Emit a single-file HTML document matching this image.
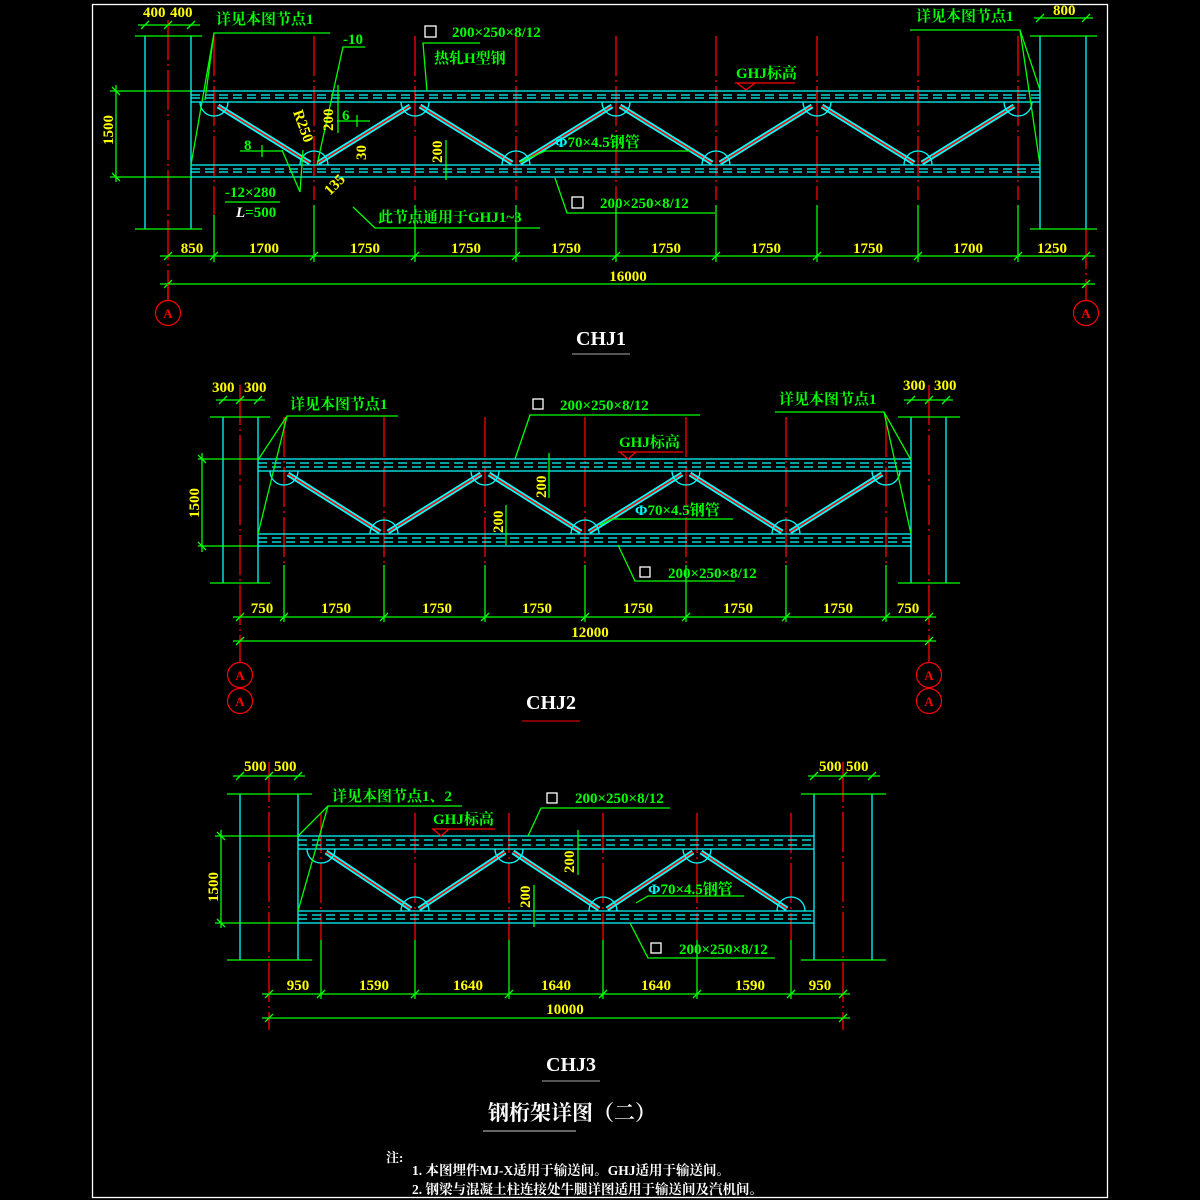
<!DOCTYPE html>
<html><head><meta charset="utf-8"><style>
html,body{margin:0;padding:0;background:#000;}
svg{display:block}
text{font-family:"Liberation Serif","Noto Serif CJK SC","Noto Sans CJK SC",serif;font-weight:bold}
.c{stroke:#00ffff;stroke-width:1.3;fill:none}
.cd{stroke:#00ffff;stroke-width:1.3;fill:none;stroke-dasharray:9 5}
.g{stroke:#00ff00;stroke-width:1.3;fill:none}
.r{stroke:#ff0000;stroke-width:1.3;fill:none;stroke-dasharray:40 4 2 4}
.rs{stroke:#ff0000;stroke-width:1.3;fill:none}
.dc{stroke:#00ffff;stroke-width:5;fill:none}
.dr{stroke:#ff0000;stroke-width:1.5;fill:none}
.y{fill:#ffff00;font-size:15px}
.gt{fill:#00ff00;font-size:15px}
.w{fill:#fff}
</style></head><body>
<svg width="1200" height="1200" viewBox="0 0 1200 1200" xmlns="http://www.w3.org/2000/svg">
<rect x="92.5" y="4.5" width="1015" height="1193" fill="none" stroke="#fff" stroke-width="1.3"/>

<!-- ================= CHJ1 ================= -->
<g>
<line class="c" x1="145" y1="36" x2="145" y2="229"/>
<line class="c" x1="191" y1="36" x2="191" y2="229"/>
<line class="r" x1="168" y1="20" x2="168" y2="300"/>
<line class="g" x1="135" y1="36" x2="202" y2="36"/>
<line class="g" x1="135" y1="229" x2="202" y2="229"/>
<line class="c" x1="1040" y1="36" x2="1040" y2="229"/>
<line class="c" x1="1086" y1="36" x2="1086" y2="229"/>
<line class="r" x1="1086" y1="229" x2="1086" y2="300"/>
<line class="g" x1="1030" y1="36" x2="1097" y2="36"/>
<line class="g" x1="1030" y1="229" x2="1097" y2="229"/>
<line class="g" x1="138" y1="25" x2="200" y2="25"/>
<line class="g" x1="1034" y1="18" x2="1093" y2="18"/>
<g class="g"><path d="M141 29 L149 21 M164 29 L172 21 M187 29 L195 21 M1036 22 L1044 14 M1082 22 L1090 14"/></g>
<text class="y" x="143" y="17">400</text><text class="y" x="170" y="17">400</text>
<text class="y" x="1053" y="15">800</text>
<line class="g" x1="116" y1="85" x2="116" y2="182"/>
<line class="g" x1="110" y1="91" x2="191" y2="91"/>
<line class="g" x1="110" y1="177" x2="191" y2="177"/>
<path class="g" d="M112 87 L120 95 M112 173 L120 181"/>
<text class="y" transform="translate(113,145) rotate(-90)">1500</text>
<line class="r" x1="214" y1="36" x2="214" y2="215"/>
<line class="r" x1="314" y1="36" x2="314" y2="200"/>
<line class="r" x1="616" y1="36" x2="616" y2="200"/>
<line class="r" x1="716" y1="36" x2="716" y2="200"/>
<line class="r" x1="415" y1="36" x2="415" y2="200"/>
<line class="r" x1="516" y1="36" x2="516" y2="200"/>
<line class="r" x1="817" y1="36" x2="817" y2="200"/>
<line class="r" x1="918" y1="36" x2="918" y2="200"/>
<line class="r" x1="1018" y1="36" x2="1018" y2="200"/>
<line class="c" x1="191" y1="91" x2="1040" y2="91"/>
<line class="cd" x1="191" y1="95" x2="1040" y2="95"/>
<line class="cd" x1="191" y1="98" x2="1040" y2="98"/>
<line class="c" x1="191" y1="102" x2="1040" y2="102"/>
<line class="c" x1="191" y1="165" x2="1040" y2="165"/>
<line class="cd" x1="191" y1="169" x2="1040" y2="169"/>
<line class="cd" x1="191" y1="172" x2="1040" y2="172"/>
<line class="c" x1="191" y1="177" x2="1040" y2="177"/>
<path class="dc" d="M218 106 L310 163 M410 106 L318 163 M420 106 L512 163 M612 106 L520 163 M620 106 L712 163 M812 106 L720 163 M822 106 L914 163 M1014 106 L922 163"/>
<path class="dr" d="M218 106 L310 163 M410 106 L318 163 M420 106 L512 163 M612 106 L520 163 M620 106 L712 163 M812 106 L720 163 M822 106 L914 163 M1014 106 L922 163"/>
<g class="c">
<path d="M200 102 A14 14 0 0 0 228 102"/><path d="M401 102 A14 14 0 0 0 429 102"/><path d="M602 102 A14 14 0 0 0 630 102"/><path d="M803 102 A14 14 0 0 0 831 102"/><path d="M1004 102 A14 14 0 0 0 1032 102"/>
<path d="M300 165 A14 14 0 0 1 328 165"/><path d="M502 165 A14 14 0 0 1 530 165"/><path d="M702 165 A14 14 0 0 1 730 165"/><path d="M904 165 A14 14 0 0 1 932 165"/>
</g>
<path class="g" d="M330 33 L214 33 L191 165 M214 33 L205 100"/>
<path class="g" d="M910 30 L1020 30 L1040 90 M1020 30 L1040 165"/>
<text class="gt" x="216" y="24">详见本图节点1</text>
<text class="gt" x="916" y="21">详见本图节点1</text>
<path class="g" d="M365 47 L343 47 L317 165"/><text class="gt" x="343" y="44">-10</text>
<path class="g" d="M480 43 L423 43 L427 91"/>
<rect x="425" y="26" width="11" height="11" fill="none" stroke="#fff" stroke-width="1.3"/>
<text class="gt" x="452" y="37">200×250×8/12</text>
<text class="gt" x="434" y="63">热轧H型钢</text>
<text class="gt" x="736" y="78">GHJ标高</text>
<path d="M735 83 L795 83 M737 83 L746 90 L755 83" stroke="#ff0000" stroke-width="1.2" fill="none"/>
<text class="gt" x="555" y="147" fill="#00ff00"><tspan fill="#00ffff">Φ</tspan>70×4.5钢管</text>
<path class="g" d="M690 151 L545 151 L520 162"/>
<path class="g" d="M555 178 L567 213 L715 213"/>
<rect x="572" y="197" width="11" height="11" fill="none" stroke="#fff" stroke-width="1.3"/>
<text class="gt" x="600" y="208">200×250×8/12</text>
<text class="y" transform="translate(333,131) rotate(-90)">200</text>
<line class="g" x1="338" y1="85" x2="338" y2="133"/>
<text class="y" transform="translate(442,163) rotate(-90)">200</text>
<line class="g" x1="446" y1="140" x2="446" y2="180"/>
<text class="y" transform="translate(293,112) rotate(70)">R250</text>
<text class="gt" x="342" y="120">6</text><path class="g" d="M337 121 L370 121 M357 115 L357 127"/>
<text class="gt" x="244" y="150">8</text><path class="g" d="M240 151 L282 151 M262 145 L262 157"/>
<text class="y" transform="translate(366,160) rotate(-90)">30</text>
<text class="y" transform="translate(330,196) rotate(-45)">135</text>
<path class="g" d="M280 202 L225 202 M282 150 L300 192 L303 150"/>
<text class="gt" x="225" y="197">-12×280</text>
<text class="gt" x="236" y="217"><tspan fill="#fff" font-style="italic">L</tspan>=500</text>
<path class="g" d="M353 207 L375 228 L540 228"/>
<text class="gt" x="378" y="222">此节点通用于GHJ1~3</text>
<line class="g" x1="160" y1="256" x2="1095" y2="256"/>
<line class="g" x1="160" y1="284" x2="1095" y2="284"/>
<g class="g"><line x1="214" y1="215" x2="214" y2="262"/><line x1="314" y1="205" x2="314" y2="262"/><line x1="415" y1="205" x2="415" y2="262"/><line x1="516" y1="205" x2="516" y2="262"/><line x1="616" y1="205" x2="616" y2="262"/><line x1="716" y1="205" x2="716" y2="262"/><line x1="817" y1="205" x2="817" y2="262"/><line x1="918" y1="205" x2="918" y2="262"/><line x1="1018" y1="205" x2="1018" y2="262"/>
<path d="M164 260 L172 252 M210 260 L218 252 M310 260 L318 252 M411 260 L419 252 M512 260 L520 252 M612 260 L620 252 M712 260 L720 252 M813 260 L821 252 M914 260 L922 252 M1014 260 L1022 252 M1082 260 L1090 252 M164 288 L172 280 M1082 288 L1090 280"/></g>
<g class="y" text-anchor="middle"><text x="192" y="253">850</text><text x="264" y="253">1700</text><text x="365" y="253">1750</text><text x="466" y="253">1750</text><text x="566" y="253">1750</text><text x="666" y="253">1750</text><text x="766" y="253">1750</text><text x="868" y="253">1750</text><text x="968" y="253">1700</text><text x="1052" y="253">1250</text><text x="628" y="281">16000</text></g>
<line class="rs" x1="168" y1="284" x2="168" y2="300"/>
<circle cx="168" cy="313" r="12.5" fill="none" stroke="#ff0000" stroke-width="1.2"/><text x="168" y="318" fill="#ff0000" font-size="13" text-anchor="middle">A</text>
<circle cx="1086" cy="313" r="12.5" fill="none" stroke="#ff0000" stroke-width="1.2"/><text x="1086" y="318" fill="#ff0000" font-size="13" text-anchor="middle">A</text>
<text class="w" x="601" y="345" font-size="20" text-anchor="middle" font-weight="normal">CHJ1</text>
<line x1="572" y1="354" x2="630" y2="354" stroke="#aaa" stroke-width="1"/>
</g>

<!-- ================= CHJ2 ================= -->
<g>
<line class="c" x1="223" y1="417" x2="223" y2="583"/>
<line class="c" x1="258" y1="417" x2="258" y2="583"/>
<line class="r" x1="240" y1="385" x2="240" y2="662"/>
<line class="g" x1="210" y1="417" x2="270" y2="417"/>
<line class="g" x1="210" y1="583" x2="270" y2="583"/>
<line class="c" x1="911" y1="417" x2="911" y2="583"/>
<line class="c" x1="946" y1="417" x2="946" y2="583"/>
<line class="r" x1="929" y1="385" x2="929" y2="662"/>
<line class="g" x1="898" y1="417" x2="960" y2="417"/>
<line class="g" x1="898" y1="583" x2="960" y2="583"/>
<line class="g" x1="216" y1="400" x2="265" y2="400"/>
<line class="g" x1="904" y1="400" x2="953" y2="400"/>
<path class="g" d="M219 404 L227 396 M236 404 L244 396 M254 404 L262 396 M907 404 L915 396 M925 404 L933 396 M942 404 L950 396"/>
<text class="y" x="212" y="392">300</text><text class="y" x="244" y="392">300</text>
<text class="y" x="903" y="390">300</text><text class="y" x="934" y="390">300</text>
<line class="g" x1="202" y1="453" x2="202" y2="552"/>
<line class="g" x1="198" y1="459" x2="258" y2="459"/>
<line class="g" x1="198" y1="546" x2="258" y2="546"/>
<path class="g" d="M198 455 L206 463 M198 542 L206 550"/>
<text class="y" transform="translate(199,518) rotate(-90)">1500</text>
<g class="r"><line x1="284" y1="417" x2="284" y2="565"/><line x1="384" y1="417" x2="384" y2="565"/><line x1="485" y1="417" x2="485" y2="565"/><line x1="585" y1="417" x2="585" y2="565"/><line x1="686" y1="417" x2="686" y2="565"/><line x1="786" y1="417" x2="786" y2="565"/><line x1="886" y1="417" x2="886" y2="565"/></g>
<line class="c" x1="258" y1="459" x2="911" y2="459"/>
<line class="cd" x1="258" y1="463" x2="911" y2="463"/>
<line class="cd" x1="258" y1="467" x2="911" y2="467"/>
<line class="c" x1="258" y1="471" x2="911" y2="471"/>
<line class="c" x1="258" y1="534" x2="911" y2="534"/>
<line class="cd" x1="258" y1="538" x2="911" y2="538"/>
<line class="cd" x1="258" y1="542" x2="911" y2="542"/>
<line class="c" x1="258" y1="546" x2="911" y2="546"/>
<path class="dc" d="M288 474 L380 532 M481 474 L388 532 M489 474 L581 532 M682 474 L589 532 M690 474 L782 532 M882 474 L790 532"/>
<path class="dr" d="M288 474 L380 532 M481 474 L388 532 M489 474 L581 532 M682 474 L589 532 M690 474 L782 532 M882 474 L790 532"/>
<g class="c">
<path d="M270 471 A14 14 0 0 0 298 471"/><path d="M471 471 A14 14 0 0 0 499 471"/><path d="M672 471 A14 14 0 0 0 700 471"/><path d="M872 471 A14 14 0 0 0 900 471"/>
<path d="M370 534 A14 14 0 0 1 398 534"/><path d="M571 534 A14 14 0 0 1 599 534"/><path d="M772 534 A14 14 0 0 1 800 534"/>
</g>
<path class="g" d="M398 416 L287 416 L258 534 M287 416 L258 460"/>
<path class="g" d="M775 412 L884 412 L911 460 M884 412 L911 534"/>
<text class="gt" x="290" y="409">详见本图节点1</text>
<text class="gt" x="779" y="404">详见本图节点1</text>
<path class="g" d="M700 415 L530 415 L515 459"/>
<rect x="533" y="399" width="10" height="10" fill="none" stroke="#fff" stroke-width="1.3"/>
<text class="gt" x="560" y="410">200×250×8/12</text>
<text class="gt" x="619" y="447">GHJ标高</text>
<path d="M618 452 L683 452 M620 452 L628 459 L636 452" stroke="#ff0000" stroke-width="1.2" fill="none"/>
<text class="gt" x="635" y="515"><tspan fill="#00ffff">Φ</tspan>70×4.5钢管</text>
<path class="g" d="M733 519 L612 519 L600 525"/>
<path class="g" d="M618 545 L635 581 L735 581"/>
<rect x="640" y="567" width="10" height="10" fill="none" stroke="#fff" stroke-width="1.3"/>
<text class="gt" x="668" y="578">200×250×8/12</text>
<text class="y" transform="translate(546,498) rotate(-90)">200</text>
<line class="g" x1="549" y1="453" x2="549" y2="498"/>
<text class="y" transform="translate(503,533) rotate(-90)">200</text>
<line class="g" x1="506" y1="505" x2="506" y2="545"/>
<line class="g" x1="233" y1="617" x2="936" y2="617"/>
<line class="g" x1="233" y1="641" x2="936" y2="641"/>
<g class="g"><line x1="284" y1="565" x2="284" y2="622"/><line x1="384" y1="565" x2="384" y2="622"/><line x1="485" y1="565" x2="485" y2="622"/><line x1="585" y1="565" x2="585" y2="622"/><line x1="686" y1="565" x2="686" y2="622"/><line x1="786" y1="565" x2="786" y2="622"/><line x1="886" y1="565" x2="886" y2="622"/>
<path d="M236 621 L244 613 M280 621 L288 613 M380 621 L388 613 M481 621 L489 613 M581 621 L589 613 M682 621 L690 613 M782 621 L790 613 M882 621 L890 613 M925 621 L933 613 M236 645 L244 637 M925 645 L933 637"/></g>
<g class="y" text-anchor="middle"><text x="262" y="613">750</text><text x="336" y="613">1750</text><text x="437" y="613">1750</text><text x="537" y="613">1750</text><text x="638" y="613">1750</text><text x="738" y="613">1750</text><text x="838" y="613">1750</text><text x="908" y="613">750</text><text x="590" y="637">12000</text></g>
<g fill="none" stroke="#ff0000" stroke-width="1.2"><circle cx="240" cy="675" r="12.5"/><circle cx="240" cy="701" r="12.5"/><circle cx="929" cy="675" r="12.5"/><circle cx="929" cy="701" r="12.5"/></g>
<g fill="#ff0000" font-size="13" text-anchor="middle"><text x="240" y="680">A</text><text x="240" y="706">A</text><text x="929" y="680">A</text><text x="929" y="706">A</text></g>
<text class="w" x="551" y="709" font-size="20" text-anchor="middle" font-weight="normal">CHJ2</text>
<line x1="522" y1="721" x2="580" y2="721" stroke="#ff0000" stroke-width="1"/>
</g>

<!-- ================= CHJ3 ================= -->
<g>
<line class="c" x1="240" y1="794" x2="240" y2="960"/>
<line class="c" x1="298" y1="794" x2="298" y2="960"/>
<line class="r" x1="269" y1="762" x2="269" y2="1030"/>
<line class="g" x1="227" y1="794" x2="312" y2="794"/>
<line class="g" x1="227" y1="960" x2="312" y2="960"/>
<line class="c" x1="814" y1="794" x2="814" y2="960"/>
<line class="c" x1="872" y1="794" x2="872" y2="960"/>
<line class="r" x1="843" y1="762" x2="843" y2="1030"/>
<line class="g" x1="801" y1="794" x2="886" y2="794"/>
<line class="g" x1="801" y1="960" x2="886" y2="960"/>
<line class="g" x1="233" y1="776" x2="305" y2="776"/>
<line class="g" x1="808" y1="776" x2="880" y2="776"/>
<path class="g" d="M236 780 L244 772 M265 780 L273 772 M294 780 L302 772 M810 780 L818 772 M839 780 L847 772 M868 780 L876 772"/>
<text class="y" x="244" y="771">500</text><text class="y" x="274" y="771">500</text>
<text class="y" x="819" y="771">500</text><text class="y" x="846" y="771">500</text>
<line class="g" x1="221" y1="830" x2="221" y2="928"/>
<line class="g" x1="215" y1="836" x2="298" y2="836"/>
<line class="g" x1="215" y1="923" x2="298" y2="923"/>
<path class="g" d="M217 832 L225 840 M217 919 L225 927"/>
<text class="y" transform="translate(218,902) rotate(-90)">1500</text>
<g class="r"><line x1="321" y1="813" x2="321" y2="940"/><line x1="415" y1="813" x2="415" y2="940"/><line x1="509" y1="813" x2="509" y2="940"/><line x1="603" y1="813" x2="603" y2="940"/><line x1="697" y1="813" x2="697" y2="940"/><line x1="791" y1="813" x2="791" y2="940"/></g>
<line class="c" x1="298" y1="836" x2="814" y2="836"/>
<line class="cd" x1="298" y1="840" x2="814" y2="840"/>
<line class="cd" x1="298" y1="845" x2="814" y2="845"/>
<line class="c" x1="298" y1="849" x2="814" y2="849"/>
<line class="c" x1="298" y1="911" x2="814" y2="911"/>
<line class="cd" x1="298" y1="915" x2="814" y2="915"/>
<line class="cd" x1="298" y1="919" x2="814" y2="919"/>
<line class="c" x1="298" y1="923" x2="814" y2="923"/>
<path class="dc" d="M326 852 L411 909 M505 852 L419 909 M513 852 L599 909 M693 852 L607 909 M701 852 L787 909"/>
<path class="dr" d="M326 852 L411 909 M505 852 L419 909 M513 852 L599 909 M693 852 L607 909 M701 852 L787 909"/>
<g class="c">
<path d="M307 849 A14 14 0 0 0 335 849"/><path d="M495 849 A14 14 0 0 0 523 849"/><path d="M683 849 A14 14 0 0 0 711 849"/>
<path d="M401 911 A14 14 0 0 1 429 911"/><path d="M589 911 A14 14 0 0 1 617 911"/><path d="M777 911 A14 14 0 0 1 805 911"/>
</g>
<path class="g" d="M462 806 L328 806 L298 836 M328 806 L298 911"/>
<text class="gt" x="332" y="801">详见本图节点1、2</text>
<path class="g" d="M670 808 L541 808 L528 836"/>
<rect x="547" y="793" width="10" height="10" fill="none" stroke="#fff" stroke-width="1.3"/>
<text class="gt" x="575" y="803">200×250×8/12</text>
<text class="gt" x="433" y="824">GHJ标高</text>
<path d="M432 829 L495 829 M433 829 L441 836 L449 829" stroke="#ff0000" stroke-width="1.2" fill="none"/>
<text class="gt" x="648" y="894"><tspan fill="#00ffff">Φ</tspan>70×4.5钢管</text>
<path class="g" d="M744 896 L648 896 L636 903"/>
<path class="g" d="M630 923 L648 958 L775 958"/>
<rect x="651" y="943" width="10" height="10" fill="none" stroke="#fff" stroke-width="1.3"/>
<text class="gt" x="679" y="954">200×250×8/12</text>
<text class="y" transform="translate(574,873) rotate(-90)">200</text>
<line class="g" x1="578" y1="830" x2="578" y2="875"/>
<text class="y" transform="translate(530,908) rotate(-90)">200</text>
<line class="g" x1="534" y1="885" x2="534" y2="927"/>
<line class="g" x1="262" y1="994" x2="850" y2="994"/>
<line class="g" x1="262" y1="1018" x2="850" y2="1018"/>
<g class="g"><line x1="321" y1="940" x2="321" y2="999"/><line x1="415" y1="940" x2="415" y2="999"/><line x1="509" y1="940" x2="509" y2="999"/><line x1="603" y1="940" x2="603" y2="999"/><line x1="697" y1="940" x2="697" y2="999"/><line x1="791" y1="940" x2="791" y2="999"/>
<path d="M265 998 L273 990 M317 998 L325 990 M411 998 L419 990 M505 998 L513 990 M599 998 L607 990 M693 998 L701 990 M787 998 L795 990 M839 998 L847 990 M265 1022 L273 1014 M839 1022 L847 1014"/></g>
<g class="y" text-anchor="middle"><text x="298" y="990">950</text><text x="374" y="990">1590</text><text x="468" y="990">1640</text><text x="556" y="990">1640</text><text x="656" y="990">1640</text><text x="750" y="990">1590</text><text x="820" y="990">950</text><text x="565" y="1014">10000</text></g>
<text class="w" x="571" y="1071" font-size="20" text-anchor="middle" font-weight="normal">CHJ3</text>
<line x1="542" y1="1081" x2="600" y2="1081" stroke="#aaa" stroke-width="1"/>
</g>

<text class="w" x="572" y="1120" font-size="21" text-anchor="middle" font-weight="normal">钢桁架详图（二）</text>
<line x1="483" y1="1131" x2="576" y2="1131" stroke="#ccc" stroke-width="1"/>
<text class="w" x="386" y="1162" font-size="13">注:</text>
<text class="w" x="412" y="1175" font-size="13.5">1.  本图埋件MJ-X适用于输送间。GHJ适用于输送间。</text>
<text class="w" x="412" y="1194" font-size="13.5">2.  钢梁与混凝土柱连接处牛腿详图适用于输送间及汽机间。</text>
</svg>
</body></html>
